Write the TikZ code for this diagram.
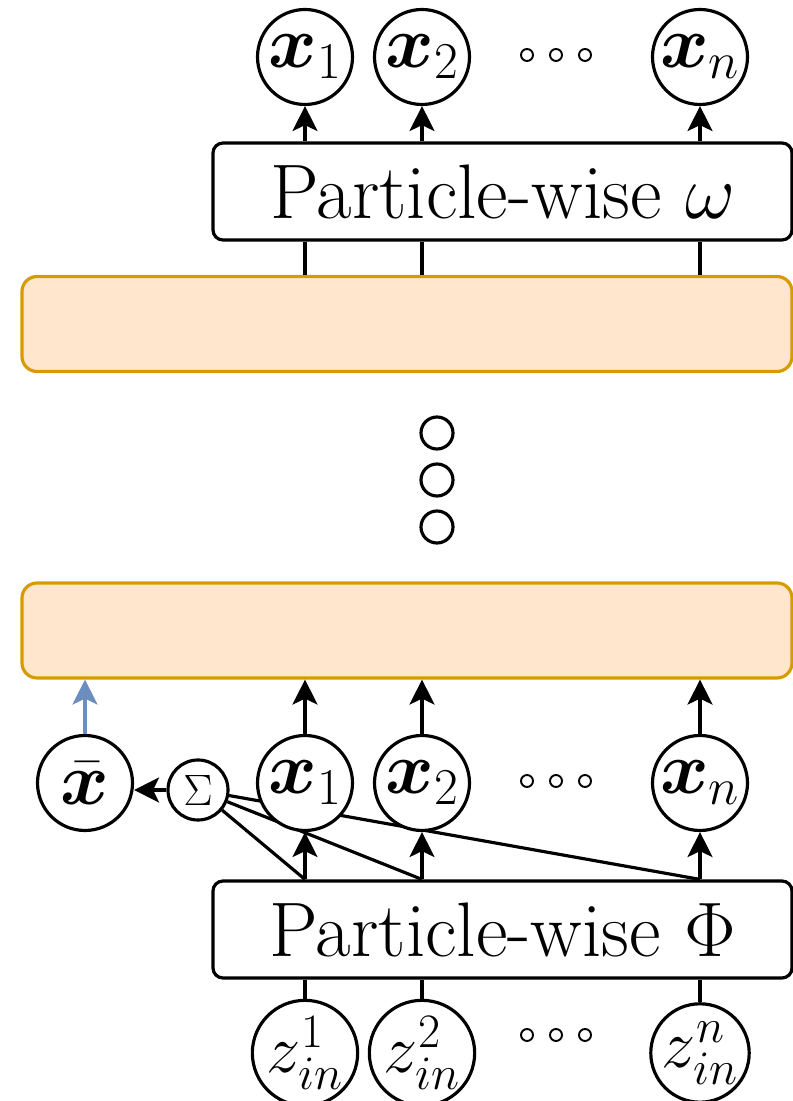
\RequirePackage{fix-cm}
\documentclass[tikz,border=0pt]{standalone}
\usepackage{amsmath}
\usepackage{bm}
\usetikzlibrary{arrows.meta, backgrounds}

\definecolor{layerfill}{HTML}{FFE6CC}
\definecolor{layerdraw}{HTML}{D79B00}
\definecolor{meanblue}{HTML}{6C8EBF}

\begin{document}
\begin{tikzpicture}[
        line width=1.8pt,
        >={Stealth[length=0.5cm, width=0.5cm, inset=0.12cm]},
        wire/.style={line width=1.8pt},
        var/.style={circle, draw, fill=white, font=\fontsize{42}{48}\selectfont, minimum size=1.9cm, inner sep=0pt},
        inp/.style={var, font=\fontsize{39}{45}\selectfont},
        net/.style={draw, fill=white, rounded corners=0.2cm, font=\fontsize{44}{50}\selectfont, minimum width=11.58cm, minimum height=1.94cm},
        layer/.style={draw=layerdraw, fill=layerfill, rounded corners=0.3cm, minimum width=15.4cm, minimum height=1.9cm},
        dot/.style={circle, draw, line width=1.1pt, minimum size=0.24cm, inner sep=0pt},
        vdot/.style={circle, draw, minimum size=0.64cm, inner sep=0pt}
    ]
        \useasboundingbox (0,0) rectangle (15.86,22.02);

        % outputs
        \node[var] (t1) at (6.10, 20.88) {$\bm{x}_1$};
        \node[var] (t2) at (8.44, 20.88) {$\bm{x}_2$};
        \node[var] (tn) at (14.00, 20.88) {$\bm{x}_n$};
        \foreach \x [count=\i] in {10.54, 11.12, 11.70}
            \node[dot] (td\i) at (\x, 20.92) {};

        \node[net] (omega) at (10.05, 18.19) {Particle-wise $\omega$};

        \node[layer] (L1) at (8.14, 15.54) {};
        \foreach \y [count=\i] in {13.36, 12.42, 11.48}
            \node[vdot] (vd\i) at (8.74, \y) {};
        \node[layer] (L2) at (8.14, 9.41) {};

        % particle embeddings and their mean
        \node[var] (xbar) at (1.70, 6.36) {$\bar{\bm{x}}$};
        \node[circle, draw, fill=white, font=\fontsize{25}{30}\selectfont,
              minimum size=1.2cm, inner sep=0pt] (sum) at (3.96, 6.22) {$\Sigma$};
        \node[var] (b1) at (6.10, 6.36) {$\bm{x}_1$};
        \node[var] (b2) at (8.44, 6.36) {$\bm{x}_2$};
        \node[var] (bn) at (14.00, 6.36) {$\bm{x}_n$};
        \foreach \x [count=\i] in {10.54, 11.12, 11.70}
            \node[dot] (bd\i) at (\x, 6.40) {};

        \node[net] (phi) at (10.05, 3.43) {Particle-wise $\Phi$};

        % inputs
        \node[inp] (z1) at (6.10, 0.96) {$z_{in}^1$};
        \node[inp] (z2) at (8.44, 0.96) {$z_{in}^2$};
        \node[inp] (zn) at (14.00, 0.96) {$z_{in}^n$};
        \foreach \x [count=\i] in {10.54, 11.12, 11.70}
            \node[dot] (zd\i) at (\x, 1.32) {};

        \draw[wire] (z1) -- (phi.south -| z1);
        \draw[wire] (z2) -- (phi.south -| z2);
        \draw[wire] (zn) -- (phi.south -| zn);

        \draw[wire, ->] (phi.north -| b1) -- (b1);
        \draw[wire, ->] (phi.north -| b2) -- (b2);
        \draw[wire, ->] (phi.north -| bn) -- (bn);

        \begin{scope}[on background layer]
            \draw[wire] (sum) -- (phi.north -| b1);
            \draw[wire] (sum) -- (phi.north -| b2);
            \draw[wire] (sum) -- (phi.north -| bn);
        \end{scope}
        \draw[wire, ->] (sum.west) -- (sum.west -| xbar.east);

        \draw[wire, ->] (b1) -- (b1 |- L2.south);
        \draw[wire, ->] (b2) -- (b2 |- L2.south);
        \draw[wire, ->] (bn) -- (bn |- L2.south);
        \draw[wire, ->, meanblue] (xbar) -- (xbar |- L2.south);

        \draw[wire] (omega.south -| t1) -- (L1.north -| t1);
        \draw[wire] (omega.south -| t2) -- (L1.north -| t2);
        \draw[wire] (omega.south -| tn) -- (L1.north -| tn);

        \draw[wire, ->] (omega.north -| t1) -- (t1);
        \draw[wire, ->] (omega.north -| t2) -- (t2);
        \draw[wire, ->] (omega.north -| tn) -- (tn);
    \end{tikzpicture}
\end{document}
